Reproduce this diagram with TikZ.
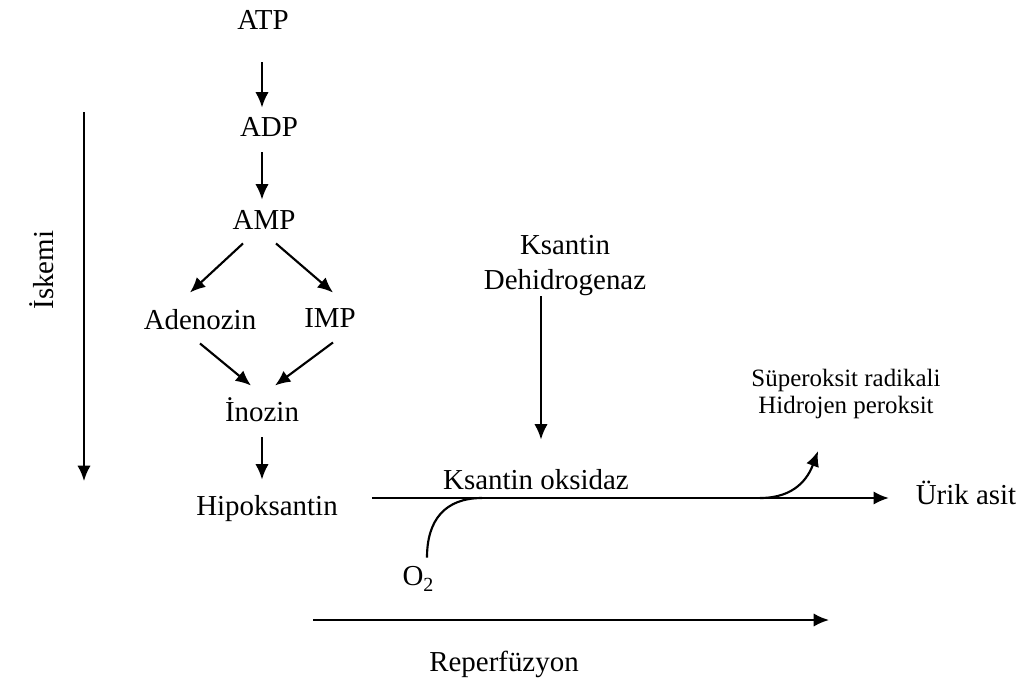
\documentclass[tikz,border=0pt]{standalone}
\usepackage{fontspec}
\setmainfont{Liberation Serif}
\usetikzlibrary{arrows.meta,calc}
\begin{document}
\begin{tikzpicture}[x=0.75pt,y=-0.75pt,
  lbl/.style={inner sep=0pt, font=\fontsize{21.7}{26.25}\selectfont, text height=15pt, text depth=4.8pt},
  two/.style={inner sep=0pt, font=\fontsize{21.7}{26.25}\selectfont, align=center},
  sml/.style={inner sep=0pt, font=\fontsize{18.7}{20.25}\selectfont, align=center},
  arr/.style={line width=1.6pt, -{Latex[length=11.5pt,width=10pt]}},
  ln/.style={line width=1.6pt}]
\useasboundingbox (0,0) rectangle (1020,682);

% nodes
\node[lbl] (ATP) at (263,23) {ATP};
\node[lbl] (ADP) at (269,130) {ADP};
\node[lbl] (AMP) at (264,223) {AMP};
\node[lbl] (Aden) at (200,323) {Adenozin};
\node[lbl] (IMP) at (330,321) {IMP};
\node[lbl] (Ino) at (262,415) {İnozin};
\node[lbl] (Hipo) at (267,509) {Hipoksantin};
\node[two] (KD) at (565,266) {Ksantin\\Dehidrogenaz};
\node[lbl] (KO) at (536,483) {Ksantin oksidaz};
\node[lbl] (Urik) at (966,498) {Ürik asit};
\node[sml] (SR) at (846,394) {Süperoksit radikali\\Hidrojen peroksit};
\node[lbl] (O2) at (418,579) {O\raisebox{-0.45ex}{\fontsize{15}{15}\selectfont 2}};
\node[lbl, rotate=90] (Isk) at (47,270) {İskemi};
\node[lbl] (Rep) at (504,665) {Reperfüzyon};

% helper coordinates
\coordinate (col) at (262,0);
\coordinate (col2) at (541,0);
\coordinate (isk1) at (84,112);
\coordinate (isk2) at (84,481);
\coordinate (rep1) at (313,620);
\coordinate (rep2) at (829,620);
\coordinate (b0) at (760,498);
\coordinate (m0) at (482,498);

% pathway arrows
\draw[arr, shorten <=19.5pt, shorten >=6.75pt] (ATP.south -| col) -- (ADP.north -| col);
\draw[arr, shorten <=6.75pt, shorten >=7.5pt] (ADP.south -| col) -- (AMP.north -| col);
\draw[arr] ($(AMP.south)+(-21,7)$) -- ($(Aden.north)+(-10,-17)$);
\draw[arr] ($(AMP.south)+(12,7)$) -- ($(IMP.north)+(3,-15)$);
\draw[arr] ($(Aden.south)+(0,7)$) -- ($(Ino.north)+(-11,-16)$);
\draw[arr] ($(IMP.south)+(3,8)$) -- ($(Ino.north)+(13,-16)$);
\draw[arr, shorten <=6.75pt, shorten >=12pt] (Ino.south -| col) -- (Hipo.north -| col);

% enzyme arrow
\draw[arr, shorten >=22.5pt] (KD.south -| col2) -- (KO.north -| col2);

% main reaction line
\draw[arr, shorten <=25.5pt, shorten >=20pt] (Urik.west -| Hipo.east) -- (Urik.west);

% O2 joining
\draw[ln] ($(O2.north)+(9,-8)$) .. controls (427,520) and (445,498) .. (m0);

% superoxide branch
\draw[arr] (b0) .. controls (795,498) and (808,478) .. ($(SR.south)+(-28,32)$);

% ischemia / reperfusion arrows
\draw[arr] (isk1) -- (isk2);
\draw[arr] (rep1) -- (rep2);
\end{tikzpicture}
\end{document}
